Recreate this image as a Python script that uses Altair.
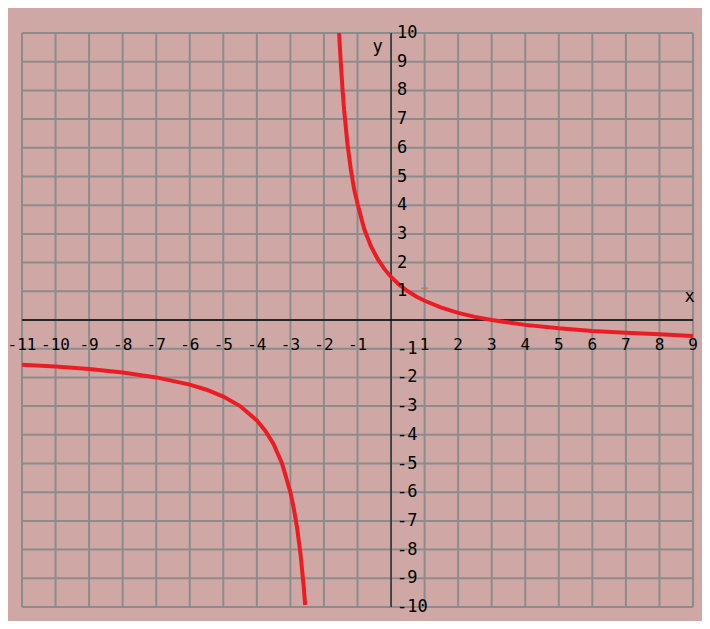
import altair as alt
import pandas as pd

# ---- data ----
left_x = [-11, -10, -9, -8, -7, -6, -5.5, -5, -4.5, -4, -3.75, -3.5, -3.25, -3.0, -2.9, -2.8, -2.7, -2.6, -2.56]
left_y = [-1.56, -1.62, -1.71, -1.83, -2.0, -2.25, -2.43, -2.67, -3.0, -3.5, -3.86, -4.33, -5.0, -6.0, -6.56, -7.25, -8.14, -9.33, -9.93]

right_x = [-1.55, -1.5, -1.45, -1.4, -1.3, -1.2, -1.1, -1.0, -0.8, -0.6, -0.4, -0.2, 0, 0.25, 0.5, 0.75, 1, 1.5, 2, 2.5, 3, 3.5, 4, 5, 6, 7, 8, 9]
right_y = [10.0, 9.0, 8.1, 7.33, 6.14, 5.25, 4.56, 4.05, 3.17, 2.57, 2.13, 1.78, 1.5, 1.22, 1.0, 0.82, 0.67, 0.43, 0.25, 0.11, 0.0, -0.09, -0.17, -0.29, -0.38, -0.44, -0.5, -0.56]

x_ticks = [-11, -10, -9, -8, -7, -6, -5, -4, -3, -2, -1, 1, 2, 3, 4, 5, 6, 7, 8, 9]
y_ticks = [10, 9, 8, 7, 6, 5, 4, 3, 2, 1, -1, -2, -3, -4, -5, -6, -7, -8, -9, -10]
x_grid = list(range(-11, 10))
y_grid = list(range(-10, 11))

marker_x = [1.0]
marker_y = [1.1]

PINK = "#CFA8A5"
GRID = "#8C8C8C"
RED = "#EC1C24"
FONT = "DejaVu Sans Mono"

curve = pd.DataFrame(
    [{"x": a, "y": b, "branch": "left", "i": i} for i, (a, b) in enumerate(zip(left_x, left_y))]
    + [{"x": a, "y": b, "branch": "right", "i": i} for i, (a, b) in enumerate(zip(right_x, right_y))]
)

xs = alt.Scale(domain=[-11, 9], nice=False, zero=False)
ys = alt.Scale(domain=[-10, 10], nice=False, zero=False)
X = lambda f: alt.X(f, scale=xs, axis=None)
Y = lambda f: alt.Y(f, scale=ys, axis=None)

vgrid = alt.Chart(pd.DataFrame({"x": x_grid, "y": [-10] * len(x_grid), "y2": [10] * len(x_grid)})).mark_rule(
    color=GRID, strokeWidth=2
).encode(x=X("x:Q"), y=Y("y:Q"), y2="y2:Q")

hgrid = alt.Chart(pd.DataFrame({"y": y_grid, "x": [-11] * len(y_grid), "x2": [9] * len(y_grid)})).mark_rule(
    color=GRID, strokeWidth=2
).encode(x=X("x:Q"), x2="x2:Q", y=Y("y:Q"))

xaxis_line = alt.Chart(pd.DataFrame({"x": [-11], "x2": [9], "y": [0]})).mark_rule(
    color="#262626", strokeWidth=2
).encode(x=X("x:Q"), x2="x2:Q", y=Y("y:Q"))

yaxis_line = alt.Chart(pd.DataFrame({"x": [0], "y": [-10], "y2": [10]})).mark_rule(
    color="#000000", strokeWidth=1
).encode(x=X("x:Q"), y=Y("y:Q"), y2="y2:Q")

line = alt.Chart(curve).mark_line(color=RED, strokeWidth=4, strokeCap="butt").encode(
    x=X("x:Q"),
    y=Y("y:Q"),
    detail="branch:N",
    order="i:Q",
)

xlab = alt.Chart(pd.DataFrame({"x": x_ticks, "y": [0] * len(x_ticks), "t": [str(v) for v in x_ticks]})).mark_text(
    font=FONT, fontSize=16, color="#000000", align="center", baseline="middle", dy=25
).encode(x=X("x:Q"), y=Y("y:Q"), text="t:N")

ylab = alt.Chart(pd.DataFrame({"x": [0] * len(y_ticks), "y": y_ticks, "t": [str(v) for v in y_ticks]})).mark_text(
    font=FONT, fontSize=17, color="#000000", align="left", baseline="middle", dx=6
).encode(x=X("x:Q"), y=Y("y:Q"), text="t:N")

titles = alt.Chart(pd.DataFrame({"x": [-0.4, 8.9], "y": [9.5, 0.8], "t": ["y", "x"]})).mark_text(
    font=FONT, fontSize=17, color="#000000", align="center", baseline="middle"
).encode(x=X("x:Q"), y=Y("y:Q"), text="t:N")

mk_df = pd.DataFrame({"x": marker_x, "y": marker_y})
mk_v = alt.Chart(mk_df).mark_tick(orient="vertical", color="#4A90C8", size=9, thickness=1).encode(
    x=X("x:Q"), y=Y("y:Q"))
mk_h = alt.Chart(mk_df).mark_tick(orient="horizontal", color="#C87830", size=7, thickness=2).encode(
    x=X("x:Q"), y=Y("y:Q"))

chart = alt.layer(vgrid, hgrid, xaxis_line, yaxis_line, mk_v, mk_h, line, xlab, ylab, titles).properties(
    width=671, height=574,
    padding={"left": 14, "top": 25, "right": 9, "bottom": 14},
    autosize=alt.AutoSizeParams(type="none"),
).configure(background=PINK).configure_view(stroke=None)

chart.save("out.html", embed_options={"renderer": "svg", "actions": False})
